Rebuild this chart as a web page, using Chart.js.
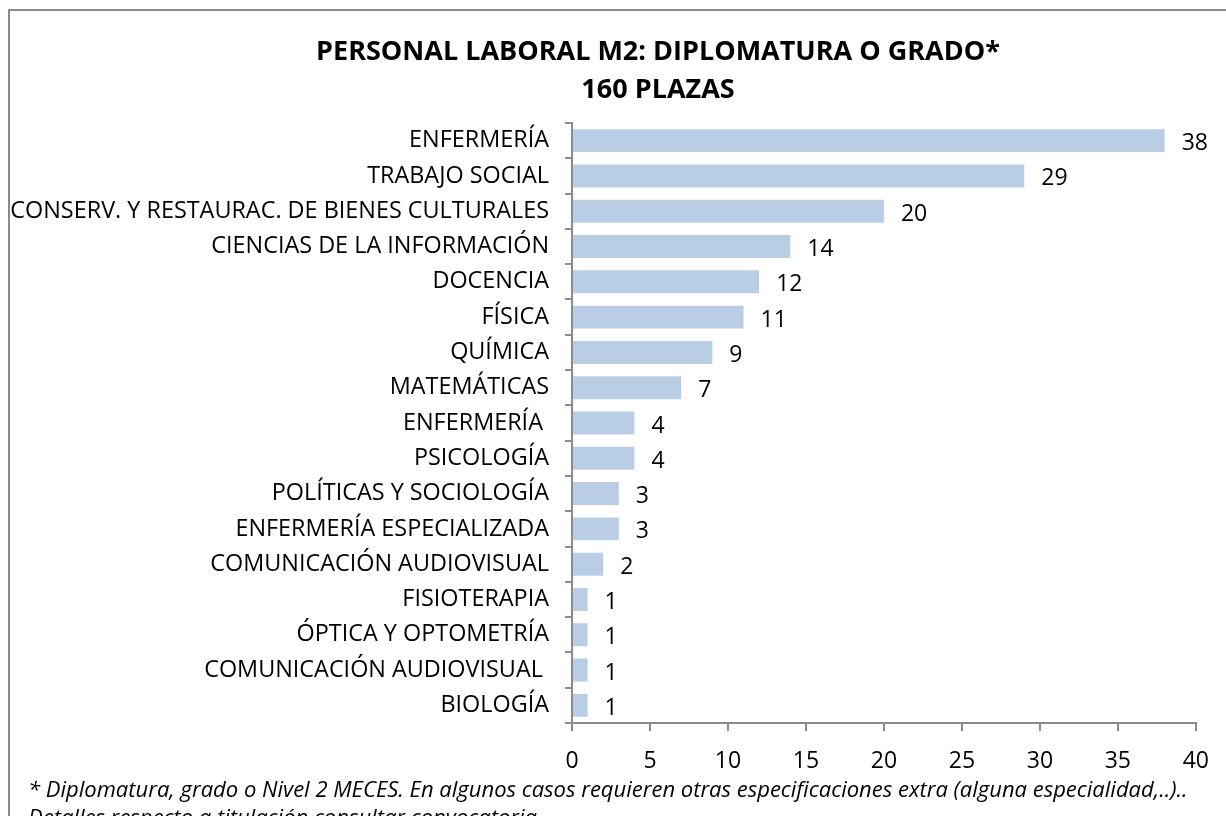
<!DOCTYPE html>
<html>
<head>
<meta charset="utf-8">
<script src="https://cdn.jsdelivr.net/npm/chart.js@4/dist/chart.umd.min.js"></script>
<style>
  html, body { margin: 0; padding: 0; background: #fff; overflow: hidden; }
</style>
</head>
<body>
<canvas id="chart" width="1226" height="816"></canvas>
<script>
const titleLines = ['PERSONAL LABORAL M2: DIPLOMATURA O GRADO*', '160 PLAZAS'];
const footnoteLines = [
    '* Diplomatura, grado o Nivel 2 MECES. En algunos casos requieren otras especificaciones extra (alguna especialidad,..)..',
    'Detalles respecto a titulación consultar convocatoria'
];

const categories = [
    'ENFERMERÍA',
    'TRABAJO SOCIAL',
    'CONSERV. Y RESTAURAC. DE BIENES CULTURALES',
    'CIENCIAS DE LA INFORMACIÓN',
    'DOCENCIA',
    'FÍSICA',
    'QUÍMICA',
    'MATEMÁTICAS',
    'ENFERMERÍA ',
    'PSICOLOGÍA',
    'POLÍTICAS Y SOCIOLOGÍA',
    'ENFERMERÍA ESPECIALIZADA',
    'COMUNICACIÓN AUDIOVISUAL',
    'FISIOTERAPIA',
    'ÓPTICA Y OPTOMETRÍA',
    'COMUNICACIÓN AUDIOVISUAL ',
    'BIOLOGÍA'
];
const plazas = [38, 29, 20, 14, 12, 11, 9, 7, 4, 4, 3, 3, 2, 1, 1, 1, 1];

const xMin = 0;
const xMax = 40;
const xStep = 5;

const FONT = '"Open Sans", "DejaVu Sans", sans-serif';
const axisGray = '#8c8c8c';

// frame, title and footnote
const decorations = {
    id: 'decorations',
    beforeDraw(chart) {
        const ctx = chart.ctx;
        ctx.save();
        ctx.fillStyle = '#fff';
        ctx.fillRect(0, 0, chart.width, chart.height);
        ctx.strokeStyle = '#8a8a8a';
        ctx.lineWidth = 2;
        ctx.strokeRect(9, 10, 1400, 1000);
        ctx.restore();
    },
    afterDraw(chart) {
        const ctx = chart.ctx;
        ctx.save();
        ctx.fillStyle = '#000';
        ctx.textAlign = 'center';
        ctx.textBaseline = 'middle';
        ctx.font = 'bold 27px ' + FONT;
        ctx.fillText(titleLines[0], 658, 52);
        ctx.fillText(titleLines[1], 658, 90);
        ctx.textAlign = 'left';
        ctx.textBaseline = 'alphabetic';
        ctx.font = 'italic 22px ' + FONT;
        ctx.fillText(footnoteLines[0], 28, 797);
        ctx.fillText(footnoteLines[1], 28, 825);
        ctx.restore();
    }
};

// value labels at the end of each bar
const valueLabels = {
    id: 'valueLabels',
    afterDatasetsDraw(chart) {
        const ctx = chart.ctx;
        const meta = chart.getDatasetMeta(0);
        ctx.save();
        ctx.fillStyle = '#000';
        ctx.font = '23px ' + FONT;
        ctx.textAlign = 'left';
        ctx.textBaseline = 'middle';
        meta.data.forEach((bar, i) => {
            ctx.fillText(String(plazas[i]), bar.x + 17, bar.y + 3);
        });
        ctx.restore();
    }
};

new Chart(document.getElementById('chart').getContext('2d'), {
    type: 'bar',
    data: {
        labels: categories,
        datasets: [{
            data: plazas,
            backgroundColor: '#b9cde5',
            borderWidth: 0,
            barPercentage: 0.65,
            categoryPercentage: 1
        }]
    },
    options: {
        indexAxis: 'y',
        responsive: false,
        animation: false,
        devicePixelRatio: 1,
        layout: { padding: { top: 123, right: 23, bottom: 0, left: 0 } },
        scales: {
            x: {
                min: xMin,
                max: xMax,
                ticks: { stepSize: xStep, color: '#000', font: { family: FONT, size: 23 }, padding: 17, maxRotation: 0 },
                grid: { drawOnChartArea: false, drawTicks: true, tickLength: 8, color: axisGray, lineWidth: 2 },
                border: { display: true, color: axisGray, width: 2 },
                afterFit(scale) { scale.height = 816 - 723; }
            },
            y: {
                ticks: { color: '#000', font: { family: FONT, size: 23.4 }, padding: 16, autoSkip: false },
                grid: { drawOnChartArea: false, drawTicks: true, tickLength: 7, color: axisGray, lineWidth: 2, offset: true },
                border: { display: true, color: axisGray, width: 2 },
                afterFit(scale) { scale.width = 572; }
            }
        },
        plugins: {
            legend: { display: false },
            tooltip: { enabled: false },
            title: { display: false }
        }
    },
    plugins: [decorations, valueLabels]
});
</script>
</body>
</html>
